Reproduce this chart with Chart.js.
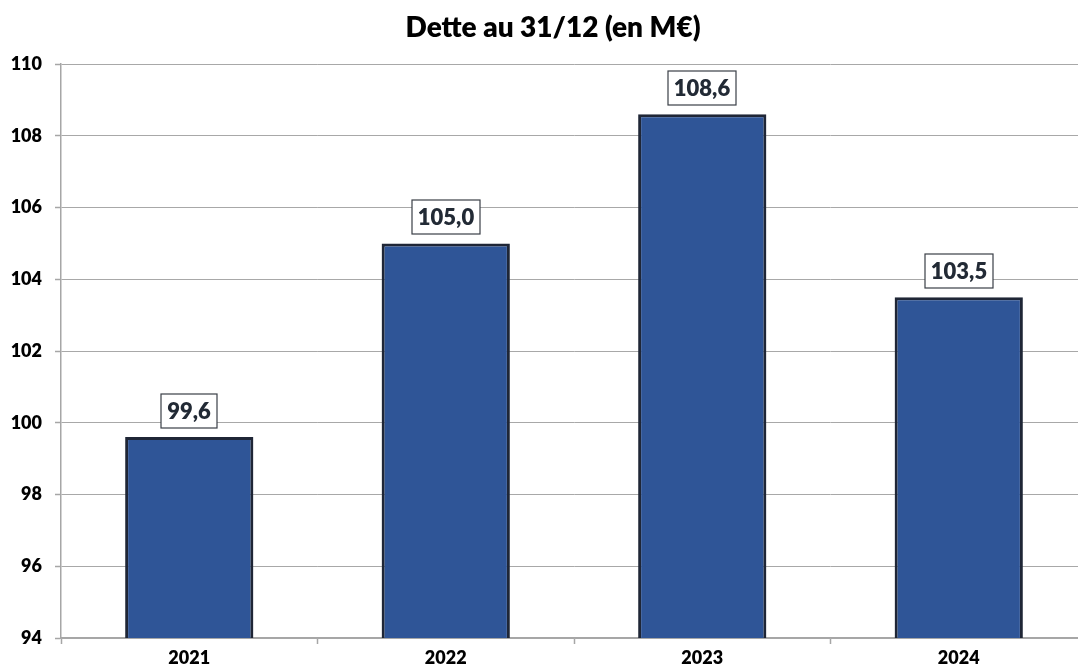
<!DOCTYPE html>
<html>
<head>
<meta charset="utf-8">
<script src="https://cdn.jsdelivr.net/npm/chart.js@4/dist/chart.umd.min.js"></script>
<style>
  html, body { margin: 0; padding: 0; overflow: hidden; background: #fff; }
  #wrap { width: 1090px; height: 672px; position: relative; }
</style>
</head>
<body>
<div id="wrap"><canvas id="c"></canvas></div>
<script>
const categories = ['2021', '2022', '2023', '2024'];
const detteValues = [99.6, 105.0, 108.6, 103.5];
const yTicks = [94, 96, 98, 100, 102, 104, 106, 108, 110];
const titleText = 'Dette au 31/12 (en M€)';

const FONT = 'Lato, "Open Sans", sans-serif';
const WEIGHT = '800';

const titlePlugin = {
  id: 'customTitle',
  afterDraw(chart) {
    const ctx = chart.ctx;
    ctx.save();
    ctx.font = WEIGHT + ' 28px ' + FONT;
    ctx.fillStyle = '#000';
    ctx.textAlign = 'center';
    ctx.textBaseline = 'middle';
    ctx.fillText(titleText, 553, 28);
    ctx.restore();
  }
};

const labelPlugin = {
  id: 'boxLabels',
  afterDatasetsDraw(chart) {
    const ctx = chart.ctx;
    const meta = chart.getDatasetMeta(0);
    ctx.save();
    ctx.font = WEIGHT + ' 22px ' + FONT;
    ctx.textAlign = 'center';
    ctx.textBaseline = 'middle';
    meta.data.forEach((bar, i) => {
      const txt = detteValues[i].toFixed(1).replace('.', ',');
      const w = Math.round(ctx.measureText(txt).width + 12);
      const h = 34;
      const x = Math.round(bar.x);
      const bottom = Math.round(bar.y - 9);
      ctx.fillStyle = '#fff';
      ctx.fillRect(x - w / 2, bottom - h, w, h);
      ctx.strokeStyle = '#3a3f47';
      ctx.lineWidth = 1.2;
      ctx.strokeRect(x - w / 2, bottom - h, w, h);
      ctx.fillStyle = '#222a35';
      ctx.fillText(txt, x, bottom - h / 2 + 1);
    });
    ctx.restore();
  }
};

new Chart(document.getElementById('c'), {
  type: 'bar',
  data: {
    labels: categories,
    datasets: [{
      data: detteValues,
      backgroundColor: '#2f5597',
      borderColor: '#1f2636',
      borderWidth: 3,
      borderSkipped: false,
      categoryPercentage: 1.0,
      barPercentage: 0.5
    }]
  },
  options: {
    responsive: true,
    maintainAspectRatio: false,
    animation: false,
    layout: { padding: { top: 64, right: 3, left: 0, bottom: 0 } },
    plugins: {
      legend: { display: false },
      title: { display: false },
      tooltip: { enabled: false }
    },
    scales: {
      x: {
        grid: {
          display: true,
          drawOnChartArea: false,
          drawTicks: true,
          tickLength: 6,
          tickColor: '#a6a6a6',
          tickWidth: 1.5,
          offset: true
        },
        border: { display: true, color: '#a6a6a6', width: 1.5 },
        ticks: {
          color: '#000',
          font: { family: FONT, weight: WEIGHT, size: 18 },
          padding: 3
        },
        afterFit(scale) { scale.height = 34; }
      },
      y: {
        min: 94,
        max: 110,
        afterBuildTicks(scale) { scale.ticks = yTicks.map(v => ({ value: v })); },
        grid: {
          color: '#a8a8a8',
          lineWidth: 1,
          borderDash: [1, 2],
          tickBorderDash: [],
          tickLength: 6,
          tickColor: '#a6a6a6',
          tickWidth: 1.5
        },
        border: { display: true, color: '#a6a6a6', width: 1.5 },
        ticks: {
          color: '#000',
          font: { family: FONT, weight: WEIGHT, size: 18 },
          padding: 13
        },
        afterFit(scale) { scale.width = 61; }
      }
    }
  },
  plugins: [titlePlugin, labelPlugin]
});
</script>
</body>
</html>
